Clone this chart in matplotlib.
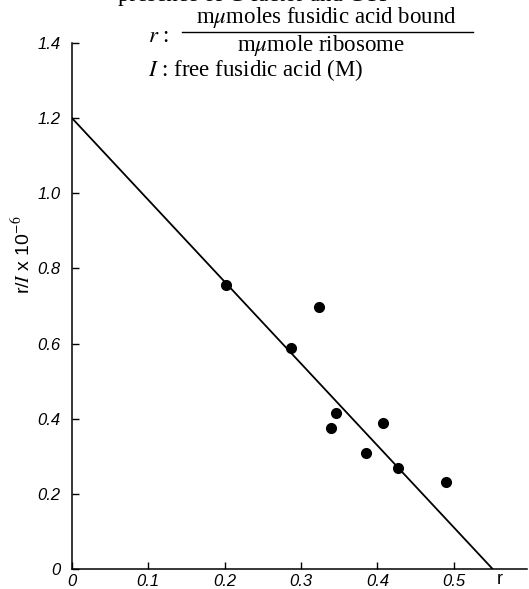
import matplotlib
matplotlib.use("Agg")
import matplotlib.pyplot as plt

plt.rcParams["mathtext.fontset"] = "stix"

# Scatchard plot data
r_vals = [0.202, 0.323, 0.287, 0.346, 0.339, 0.407, 0.385, 0.427, 0.490]
ri_vals = [0.756, 0.697, 0.588, 0.415, 0.375, 0.389, 0.309, 0.269, 0.232]
fit_x = [0.0, 0.551]
fit_y = [1.2, 0.0]

xticks = [0, 0.1, 0.2, 0.3, 0.4, 0.5]
xlabels = ["0", "0.1", "0.2", "0.3", "0.4", "0.5"]
yticks = [0, 0.2, 0.4, 0.6, 0.8, 1.0, 1.2, 1.4]
ylabels = ["0", "0.2", "0.4", "0.6", "0.8", "1.0", "1.2", "1.4"]

W, H = 529, 589
fig = plt.figure(figsize=(W / 100, H / 100), dpi=100)
ax = fig.add_axes([72 / W, 1 - 569 / H, (527 - 72) / W, (569 - 43) / H])

ax.plot(fit_x, fit_y, color="black", lw=1.3)
ax.plot(r_vals, ri_vals, "o", color="black", ms=7)

ax.set_xlim(0, 0.596)
ax.set_ylim(0, 1.4)
for s in ["top", "right"]:
    ax.spines[s].set_visible(False)
for s in ["left", "bottom"]:
    ax.spines[s].set_linewidth(1.1)

tick_font = dict(family="Liberation Sans", style="italic", size=12)
ax.set_xticks(xticks)
ax.set_xticklabels(xlabels, **tick_font)
ax.set_yticks(yticks)
ax.set_yticklabels(ylabels, **tick_font)
ax.tick_params(direction="in", length=5, width=1)
ax.tick_params(axis="x", pad=3.5)
ax.tick_params(axis="y", pad=8)

fig.text(22 / W, 1 - 255 / H, r"r/$I$ x 10$^{-6}$", rotation=90,
         ha="center", va="center", family="Liberation Sans", size=14)
fig.text(500 / W, 1 - 579 / H, "r", ha="center", va="center",
         family="Liberation Sans", size=13)

# title block (serif, like the original caption)
serif = dict(family="Liberation Serif", size=16.5)
fig.text(255 / W, 1 - (-4) / H, "presence of G factor and GTP",
         ha="center", va="center", **serif)
fig.text(326 / W, 1 - 18 / H, "m$\\mu$moles fusidic acid bound",
         ha="center", va="center", **serif)
fig.add_artist(plt.Line2D([182 / W, 473 / W], [1 - 32 / H, 1 - 32 / H],
                          color="black", lw=1.0))
fig.text(321 / W, 1 - 46 / H, "m$\\mu$mole ribosome",
         ha="center", va="center", **serif)
fig.text(148 / W, 1 - 36 / H, "$r$ :", ha="left", va="center", **serif)
fig.text(148 / W, 1 - 70 / H, "$I$ : free fusidic acid (M)",
         ha="left", va="center", **serif)

fig.savefig("out.png", dpi=100)
